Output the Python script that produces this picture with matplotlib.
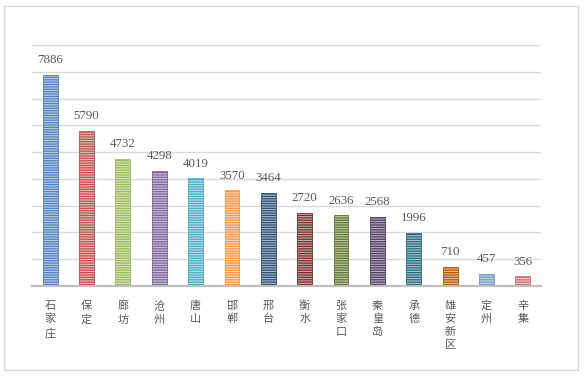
import matplotlib
matplotlib.use("Agg")
import numpy as np
import matplotlib.pyplot as plt
from matplotlib.colors import to_rgb
from matplotlib.patches import Rectangle

cities = ["石家庄", "保定", "廊坊", "沧州", "唐山", "邯郸", "邢台",
          "衡水", "张家口", "秦皇岛", "承德", "雄安新区", "定州", "辛集"]
values = [7886, 5790, 4732, 4298, 4019, 3570, 3464,
          2720, 2636, 2568, 1996, 710, 457, 356]
colors = ["#4F81BD", "#C0504D", "#9BBB59", "#8064A2", "#4BACC6", "#F79646",
          "#2C4D75", "#772C2A", "#5F7530", "#4D3B62", "#276A7C", "#B65708",
          "#729ACA", "#CD7371"]

plt.rcParams["hatch.linewidth"] = 0.9

fig = plt.figure(figsize=(5.84, 3.76), dpi=100)
ax = fig.add_axes([32/584, 90/376, 509/584, 241/376])

# outer frame
fig.patches.append(Rectangle((4/584, 6/376), 574/584, 364/376, transform=fig.transFigure,
                             fill=False, edgecolor="#D9D9D9", linewidth=1.0))

x = np.arange(len(cities))
for i, (v, c) in enumerate(zip(values, colors)):
    light = tuple(0.4*np.array(to_rgb(c)) + 0.6)
    ax.bar(x[i], v, width=0.41, facecolor=light, edgecolor=c,
           hatch="-------", linewidth=0.6)
    ax.text(x[i], v + 330, str(v), ha="center", va="bottom",
            fontsize=9.3, color="#595959", family="Liberation Serif")

ax.set_xlim(-0.5, len(cities) - 0.5)
ax.set_ylim(0, 9000)
ax.set_yticks(np.arange(0, 9001, 1000))
ax.yaxis.grid(True, color="#D9D9D9", linewidth=1.0)
ax.set_axisbelow(True)
ax.tick_params(left=False, labelleft=False, bottom=False)
for s in ["left", "right", "top"]:
    ax.spines[s].set_visible(False)
ax.spines["bottom"].set_color("#BFBFBF")
ax.spines["bottom"].set_linewidth(1.6)

ax.set_xticks(x)
ax.set_xticklabels(["\n".join(c) for c in cities], fontsize=8, color="#595959",
                   family=["Noto Sans CJK SC", "DejaVu Sans"], linespacing=1.35,
                   va="top")
ax.tick_params(axis="x", pad=7)

fig.savefig("out.png", dpi=100)
